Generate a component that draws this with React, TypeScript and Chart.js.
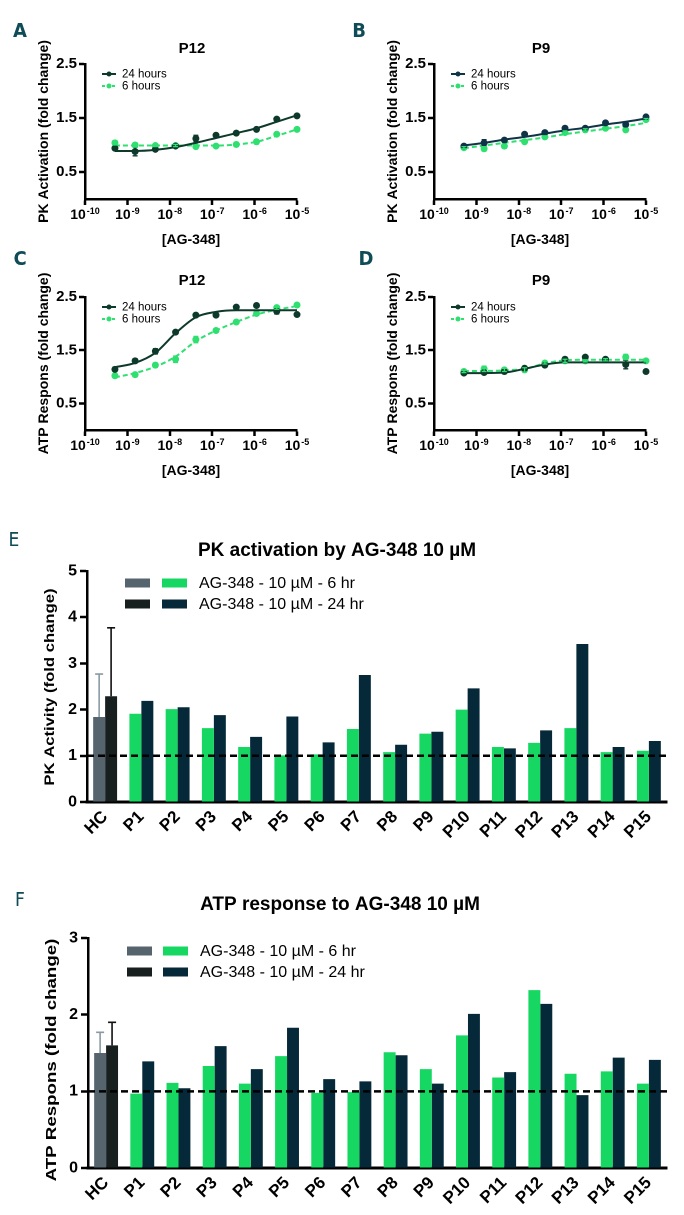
import React, { useEffect, useRef } from 'react';
import { Chart, registerables } from 'chart.js';

Chart.register(...registerables);

const FONT = "'Liberation Sans', Arial, Helvetica, sans-serif";
const LETTER_FONT = "'Liberation Sans Narrow', 'DejaVu Sans Condensed', 'Liberation Sans', sans-serif";

// ---------- dose-response panels (A-D) ----------
const doses = [5.08e-10, 1.52e-9, 4.57e-9, 1.37e-8, 4.12e-8, 1.23e-7, 3.7e-7, 1.11e-6, 3.33e-6, 1.0e-5];
const decadeTicks = [1e-10, 1e-9, 1e-8, 1e-7, 1e-6, 1e-5];
const decadeExponents = ['-10', '-9', '-8', '-7', '-6', '-5'];
const doseYTicks = [0.5, 1.5, 2.5];
const doseLegend = ['24 hours', '6 hours'];
const doseXTitle = '[AG-348]';

// A: P12 PK activation
const pkP12_24h = [0.94, 0.88, 0.92, 0.98, 1.12, 1.18, 1.22, 1.29, 1.48, 1.54];
const pkP12_24hFit = [0.89, 0.89, 0.91, 0.96, 1.04, 1.13, 1.22, 1.31, 1.43, 1.55];
const pkP12_24hErr = [0.02, 0.08, 0.03, 0.02, 0.06, 0.02, 0.02, 0.03, 0.02, 0.02];
const pkP12_6h = [1.04, 1.0, 0.99, 0.99, 0.97, 0.98, 1.01, 1.06, 1.2, 1.29];
const pkP12_6hFit = [0.99, 0.99, 0.99, 0.99, 0.99, 0.99, 1.01, 1.06, 1.17, 1.29];
const pkP12_6hErr = [0.04, 0.04, 0.02, 0.02, 0.03, 0.02, 0.04, 0.04, 0.02, 0.02];

// B: P9 PK activation
const pkP9_24h = [0.98, 1.04, 1.09, 1.2, 1.23, 1.31, 1.31, 1.41, 1.38, 1.52];
const pkP9_24hFit = [0.99, 1.04, 1.1, 1.15, 1.21, 1.27, 1.32, 1.38, 1.43, 1.49];
const pkP9_24hErr = [0.02, 0.06, 0.03, 0.02, 0.03, 0.04, 0.02, 0.03, 0.03, 0.02];
const pkP9_6h = [0.95, 0.93, 0.98, 1.06, 1.15, 1.23, 1.28, 1.31, 1.28, 1.47];
const pkP9_6hFit = [0.94, 0.99, 1.04, 1.09, 1.14, 1.2, 1.25, 1.3, 1.35, 1.41];
const pkP9_6hErr = [0.02, 0.04, 0.04, 0.02, 0.02, 0.03, 0.02, 0.02, 0.03, 0.02];

// C: P12 ATP response
const atpP12_24h = [1.14, 1.3, 1.48, 1.84, 2.16, 2.16, 2.31, 2.34, 2.23, 2.17];
const atpP12_24hFit = [1.18, 1.26, 1.45, 1.82, 2.12, 2.22, 2.25, 2.25, 2.25, 2.25];
const atpP12_24hErr = [0.04, 0.04, 0.05, 0.02, 0.03, 0.02, 0.03, 0.02, 0.05, 0.02];
const atpP12_6h = [1.02, 1.04, 1.22, 1.33, 1.7, 1.87, 2.03, 2.19, 2.3, 2.35];
const atpP12_6hFit = [0.99, 1.07, 1.19, 1.38, 1.67, 1.87, 2.03, 2.17, 2.26, 2.33];
const atpP12_6hErr = [0.04, 0.04, 0.04, 0.06, 0.06, 0.02, 0.03, 0.02, 0.03, 0.02];

// D: P9 ATP response
const atpP9_24h = [1.07, 1.08, 1.1, 1.16, 1.22, 1.33, 1.37, 1.33, 1.23, 1.1];
const atpP9_24hFit = [1.07, 1.07, 1.08, 1.15, 1.23, 1.27, 1.27, 1.27, 1.27, 1.27];
const atpP9_24hErr = [0.02, 0.02, 0.04, 0.04, 0.02, 0.04, 0.02, 0.02, 0.08, 0.02];
const atpP9_6h = [1.1, 1.15, 1.13, 1.13, 1.26, 1.3, 1.3, 1.32, 1.37, 1.3];
const atpP9_6hFit = [1.11, 1.11, 1.12, 1.15, 1.25, 1.31, 1.32, 1.32, 1.32, 1.32];
const atpP9_6hErr = [0.02, 0.05, 0.03, 0.04, 0.02, 0.03, 0.02, 0.02, 0.05, 0.02];

// ---------- bar panels (E-F) ----------
const patients = ['HC', 'P1', 'P2', 'P3', 'P4', 'P5', 'P6', 'P7', 'P8', 'P9', 'P10', 'P11', 'P12', 'P13', 'P14', 'P15'];
const barLegend = ['AG-348 - 10 µM - 6 hr', 'AG-348 - 10 µM - 24 hr'];
const pkAct6h = [1.84, 1.91, 2.01, 1.6, 1.19, 1.01, 1.03, 1.58, 1.08, 1.48, 2.0, 1.19, 1.28, 1.6, 1.08, 1.11];
const pkAct24h = [2.29, 2.19, 2.05, 1.88, 1.41, 1.85, 1.29, 2.75, 1.24, 1.52, 2.46, 1.16, 1.55, 3.42, 1.19, 1.32];
const pkActHcErr = [0.93, 1.48];
const atp6h = [1.5, 0.97, 1.11, 1.33, 1.1, 1.46, 0.98, 0.99, 1.51, 1.29, 1.73, 1.18, 2.32, 1.23, 1.26, 1.1];
const atp24h = [1.6, 1.39, 1.04, 1.59, 1.29, 1.83, 1.16, 1.13, 1.47, 1.1, 2.01, 1.25, 2.14, 0.95, 1.44, 1.41];
const atpHcErr = [0.27, 0.3];

// ---------- colours ----------
const GREEN_LINE = '#2fe070';
const DARK_GREEN = '#0e3a2c';
const NAVY_LINE = '#0f3447';
const GREEN_BAR = '#17d763';
const NAVY_BAR = '#06293a';
const HC_GREY = '#56656d';
const HC_DARK = '#171f1f';
const TEAL = '#0f4c57';

function drawRotated(ctx: any, text: string, cx: number, cy: number, size: number, stretch: number) {
  ctx.save();
  ctx.translate(cx, cy);
  ctx.rotate(-Math.PI / 2);
  ctx.scale(stretch, 1);
  ctx.font = `bold ${size}px ${FONT}`;
  ctx.fillStyle = '#000';
  ctx.textAlign = 'center';
  ctx.textBaseline = 'middle';
  ctx.fillText(text, 0, 0);
  ctx.restore();
}

type DoseSpec = {
  box: number[];
  area: number[];
  title: string;
  titleX: number;
  titleY: number;
  yTitle: string;
  dark: string;
  p24: number[];
  c24: number[];
  e24: number[];
  p6: number[];
  c6: number[];
  e6: number[];
};

const specA: DoseSpec = {
  box: [0, 0, 340, 255], area: [85, 64, 297, 199], title: 'P12', titleX: 192, titleY: 49,
  yTitle: 'PK Activation (fold change)', dark: DARK_GREEN,
  p24: pkP12_24h, c24: pkP12_24hFit, e24: pkP12_24hErr, p6: pkP12_6h, c6: pkP12_6hFit, e6: pkP12_6hErr,
};
const specB: DoseSpec = {
  box: [340, 0, 344, 255], area: [434, 64, 646, 199], title: 'P9', titleX: 541, titleY: 49,
  yTitle: 'PK Activation (fold change)', dark: NAVY_LINE,
  p24: pkP9_24h, c24: pkP9_24hFit, e24: pkP9_24hErr, p6: pkP9_6h, c6: pkP9_6hFit, e6: pkP9_6hErr,
};
const specC: DoseSpec = {
  box: [0, 245, 340, 250], area: [85, 297, 297, 430], title: 'P12', titleX: 192, titleY: 281,
  yTitle: 'ATP Respons (fold change)', dark: DARK_GREEN,
  p24: atpP12_24h, c24: atpP12_24hFit, e24: atpP12_24hErr, p6: atpP12_6h, c6: atpP12_6hFit, e6: atpP12_6hErr,
};
const specD: DoseSpec = {
  box: [340, 245, 344, 250], area: [434, 297, 646, 430], title: 'P9', titleX: 541, titleY: 281,
  yTitle: 'ATP Respons (fold change)', dark: DARK_GREEN,
  p24: atpP9_24h, c24: atpP9_24hFit, e24: atpP9_24hErr, p6: atpP9_6h, c6: atpP9_6hFit, e6: atpP9_6hErr,
};

function makeDoseConfig(s: DoseSpec): any {
  const [bx, by, bw, bh] = s.box;
  const [l, t, r, b] = s.area;
  const pts = (arr: number[]) => doses.map((d, i) => ({ x: d, y: arr[i] }));
  const axisGrid = { display: true, drawOnChartArea: false, drawTicks: true, tickLength: 6, tickWidth: 2.5, tickColor: '#000' };
  const axisBorder = { display: true, color: '#000', width: 2.5 };
  const extras = {
    id: 'doseExtras',
    afterDatasetsDraw(chart: any) {
      const { ctx, scales } = chart;
      const sets: any[] = [[s.p24, s.e24, s.dark], [s.p6, s.e6, GREEN_LINE]];
      ctx.save();
      ctx.lineWidth = 1.3;
      sets.forEach(([vals, errs, col]) => {
        ctx.strokeStyle = col;
        doses.forEach((d, i) => {
          const x = scales.x.getPixelForValue(d);
          const y1 = scales.y.getPixelForValue(vals[i] - errs[i]);
          const y2 = scales.y.getPixelForValue(vals[i] + errs[i]);
          ctx.beginPath();
          ctx.moveTo(x, y1); ctx.lineTo(x, y2);
          ctx.moveTo(x - 2.5, y1); ctx.lineTo(x + 2.5, y1);
          ctx.moveTo(x - 2.5, y2); ctx.lineTo(x + 2.5, y2);
          ctx.stroke();
        });
      });
      ctx.restore();
    },
    afterDraw(chart: any) {
      const { ctx, chartArea: ca, scales } = chart;
      ctx.save();
      ctx.fillStyle = '#000';
      ctx.font = `bold 15px ${FONT}`;
      ctx.textAlign = 'center';
      ctx.textBaseline = 'middle';
      ctx.fillText(s.title, s.titleX - bx, s.titleY - by);
      decadeTicks.forEach((v, i) => {
        const x = scales.x.getPixelForValue(v);
        ctx.font = `bold 14px ${FONT}`;
        const w1 = ctx.measureText('10').width;
        ctx.font = `bold 9px ${FONT}`;
        const w2 = ctx.measureText(decadeExponents[i]).width;
        const x0 = x - (w1 + w2 + 1) / 2;
        ctx.textAlign = 'left';
        ctx.textBaseline = 'alphabetic';
        ctx.font = `bold 14px ${FONT}`;
        ctx.fillText('10', x0, ca.bottom + 20);
        ctx.font = `bold 9px ${FONT}`;
        ctx.fillText(decadeExponents[i], x0 + w1 + 1, ca.bottom + 15);
      });
      ctx.font = `bold 14px ${FONT}`;
      ctx.textAlign = 'center';
      ctx.textBaseline = 'middle';
      ctx.fillText(doseXTitle, (ca.left + ca.right) / 2, ca.bottom + 41);
      drawRotated(ctx, s.yTitle, ca.left - 41, (ca.top + ca.bottom) / 2, 14, 1);
      const entries = [
        { label: doseLegend[0], color: s.dark, dash: [] as number[] },
        { label: doseLegend[1], color: GREEN_LINE, dash: [3, 2] },
      ];
      entries.forEach((e, k) => {
        const y = ca.top + 10 + k * 12;
        const x0 = ca.left + 17;
        ctx.strokeStyle = e.color;
        ctx.lineWidth = 2;
        ctx.setLineDash(e.dash);
        ctx.beginPath();
        ctx.moveTo(x0, y);
        ctx.lineTo(x0 + 14, y);
        ctx.stroke();
        ctx.setLineDash([]);
        ctx.fillStyle = e.color;
        ctx.beginPath();
        ctx.arc(x0 + 7, y, 2.5, 0, Math.PI * 2);
        ctx.fill();
        ctx.fillStyle = '#000';
        ctx.font = `11.5px ${FONT}`;
        ctx.textAlign = 'left';
        ctx.textBaseline = 'middle';
        ctx.fillText(e.label, x0 + 20, y + 0.5);
      });
      ctx.restore();
    },
  };
  return {
    type: 'scatter',
    data: {
      datasets: [
        { label: doseLegend[0], data: pts(s.p24), pointRadius: 3, pointBackgroundColor: s.dark, pointBorderColor: s.dark, backgroundColor: s.dark, borderColor: s.dark, showLine: false, clip: false },
        { label: doseLegend[0] + ' fit', type: 'line', data: pts(s.c24), borderColor: s.dark, borderWidth: 2, pointRadius: 0, cubicInterpolationMode: 'monotone', fill: false, clip: false },
        { label: doseLegend[1], data: pts(s.p6), pointRadius: 3, pointBackgroundColor: GREEN_LINE, pointBorderColor: GREEN_LINE, backgroundColor: GREEN_LINE, borderColor: GREEN_LINE, showLine: false, clip: false },
        { label: doseLegend[1] + ' fit', type: 'line', data: pts(s.c6), borderColor: GREEN_LINE, borderWidth: 2, borderDash: [5, 3], pointRadius: 0, cubicInterpolationMode: 'monotone', fill: false, clip: false },
      ],
    },
    options: {
      animation: false,
      responsive: false,
      devicePixelRatio: 2,
      layout: { padding: { top: t - by, right: bx + bw - r, left: 0, bottom: 0 } },
      plugins: { legend: { display: false }, tooltip: { enabled: false }, title: { display: false } },
      scales: {
        x: {
          type: 'logarithmic', min: 1e-10, max: 1e-5,
          afterBuildTicks: (sc: any) => { sc.ticks = decadeTicks.map((v) => ({ value: v })); },
          afterFit: (sc: any) => { sc.height = by + bh - b; },
          ticks: { display: false },
          grid: axisGrid, border: axisBorder,
        },
        y: {
          type: 'linear', min: 0, max: 2.5,
          afterBuildTicks: (sc: any) => { sc.ticks = doseYTicks.map((v) => ({ value: v })); },
          afterFit: (sc: any) => { sc.width = l - bx; },
          ticks: { color: '#000', padding: 2, font: { family: FONT, size: 15, weight: 'bold' }, callback: (v: any) => Number(v).toFixed(1) },
          grid: axisGrid, border: axisBorder,
        },
      },
    },
    plugins: [extras],
  };
}

type BarSpec = {
  box: number[];
  area: number[];
  title: string;
  titleX: number;
  titleY: number;
  yTitle: string;
  yTitleX: number;
  yTitleY: number;
  yTitleSize: number;
  yTitleStretch: number;
  yMax: number;
  v6: number[];
  v24: number[];
  hcErr: number[];
  legendY: number[];
  swatchX: number[];
  textX: number;
};

const specE: BarSpec = {
  box: [0, 520, 684, 330], area: [87, 571, 667, 802], title: 'PK activation by AG-348 10 µM', titleX: 337, titleY: 551,
  yTitle: 'PK Activity (fold change)', yTitleX: 50, yTitleY: 687, yTitleSize: 14, yTitleStretch: 1.19, yMax: 5,
  v6: pkAct6h, v24: pkAct24h, hcErr: pkActHcErr, legendY: [583, 604], swatchX: [125, 162], textX: 199,
};
const specF: BarSpec = {
  box: [0, 880, 684, 335], area: [88, 938, 667, 1168], title: 'ATP response to AG-348 10 µM', titleX: 340, titleY: 905,
  yTitle: 'ATP Respons (fold change)', yTitleX: 52, yTitleY: 1060, yTitleSize: 14.5, yTitleStretch: 1.29, yMax: 3,
  v6: atp6h, v24: atp24h, hcErr: atpHcErr, legendY: [951, 972], swatchX: [127, 163], textX: 200,
};

function makeBarConfig(s: BarSpec): any {
  const [bx, by, bw, bh] = s.box;
  const [l, t, r, b] = s.area;
  const extras = {
    id: 'barExtras',
    afterDatasetsDraw(chart: any) {
      const { ctx, chartArea: ca, scales } = chart;
      ctx.save();
      [0, 1].forEach((di) => {
        const el = chart.getDatasetMeta(di).data[0];
        const v = chart.data.datasets[di].data[0];
        const top = scales.y.getPixelForValue(v + s.hcErr[di]);
        ctx.strokeStyle = di === 0 ? '#8a9aa2' : '#111';
        ctx.lineWidth = 1.6;
        ctx.beginPath();
        ctx.moveTo(el.x, el.y);
        ctx.lineTo(el.x, top);
        ctx.moveTo(el.x - 4, top);
        ctx.lineTo(el.x + 4, top);
        ctx.stroke();
      });
      const y1 = scales.y.getPixelForValue(1);
      ctx.strokeStyle = '#000';
      ctx.lineWidth = 2.5;
      ctx.setLineDash([7, 4]);
      ctx.beginPath();
      ctx.moveTo(ca.left, y1);
      ctx.lineTo(ca.right, y1);
      ctx.stroke();
      ctx.restore();
    },
    afterDraw(chart: any) {
      const { ctx } = chart;
      ctx.save();
      ctx.fillStyle = '#000';
      ctx.font = `bold 19px ${FONT}`;
      ctx.textAlign = 'center';
      ctx.textBaseline = 'middle';
      ctx.fillText(s.title, s.titleX - bx, s.titleY - by);
      drawRotated(ctx, s.yTitle, s.yTitleX - bx, s.yTitleY - by, s.yTitleSize, s.yTitleStretch);
      const rows = [
        { c1: HC_GREY, c2: GREEN_BAR, label: barLegend[0] },
        { c1: HC_DARK, c2: NAVY_BAR, label: barLegend[1] },
      ];
      rows.forEach((row, k) => {
        const y = s.legendY[k] - by;
        ctx.fillStyle = row.c1;
        ctx.fillRect(s.swatchX[0] - bx, y - 4.5, 25, 9);
        ctx.fillStyle = row.c2;
        ctx.fillRect(s.swatchX[1] - bx, y - 4.5, 25, 9);
        ctx.fillStyle = '#000';
        ctx.font = `16px ${FONT}`;
        ctx.textAlign = 'left';
        ctx.textBaseline = 'middle';
        ctx.fillText(row.label, s.textX - bx, y + 0.5);
      });
      ctx.restore();
    },
  };
  return {
    type: 'bar',
    data: {
      labels: patients,
      datasets: [
        { label: barLegend[0], data: s.v6, backgroundColor: patients.map((p, i) => (i === 0 ? HC_GREY : GREEN_BAR)), borderWidth: 0, categoryPercentage: 0.66, barPercentage: 1 },
        { label: barLegend[1], data: s.v24, backgroundColor: patients.map((p, i) => (i === 0 ? HC_DARK : NAVY_BAR)), borderWidth: 0, categoryPercentage: 0.66, barPercentage: 1 },
      ],
    },
    options: {
      animation: false,
      responsive: false,
      devicePixelRatio: 2,
      layout: { padding: { top: t - by, right: bx + bw - r, left: 0, bottom: 0 } },
      plugins: { legend: { display: false }, tooltip: { enabled: false }, title: { display: false } },
      scales: {
        x: {
          offset: true,
          grid: { display: false, drawTicks: false },
          border: { display: true, color: '#000', width: 3 },
          ticks: { autoSkip: false, minRotation: 45, maxRotation: 45, padding: 5, color: '#000', font: { family: FONT, size: 17, weight: 'bold' } },
          afterFit: (sc: any) => { sc.height = by + bh - b; },
        },
        y: {
          min: 0, max: s.yMax,
          ticks: { stepSize: 1, color: '#000', padding: 3, font: { family: FONT, size: 16, weight: 'bold' } },
          grid: { display: true, drawOnChartArea: false, drawTicks: true, tickLength: 7, tickWidth: 2.5, tickColor: '#000' },
          border: { display: true, color: '#000', width: 2.5 },
          afterFit: (sc: any) => { sc.width = l - bx; },
        },
      },
    },
    plugins: [extras],
  };
}

const panelLetters = [
  { text: 'A', x: 20, y: 30, bold: true },
  { text: 'B', x: 359, y: 30, bold: true },
  { text: 'C', x: 20, y: 258, bold: true },
  { text: 'D', x: 366, y: 258, bold: true },
  { text: 'E', x: 14, y: 539, bold: false },
  { text: 'F', x: 20, y: 899, bold: false },
];

const canvasBoxes = [specA.box, specB.box, specC.box, specD.box, specE.box, specF.box];

export default function App() {
  const refs = useRef<(HTMLCanvasElement | null)[]>([]);

  useEffect(() => {
    const configs = [
      makeDoseConfig(specA), makeDoseConfig(specB), makeDoseConfig(specC), makeDoseConfig(specD),
      makeBarConfig(specE), makeBarConfig(specF),
    ];
    const charts = configs.map((cfg, i) => new Chart(refs.current[i] as HTMLCanvasElement, cfg));
    return () => charts.forEach((c) => c.destroy());
  }, []);

  return (
    <div style={{ position: 'absolute', left: 0, top: 0, width: 684, height: 1215, background: '#fff', overflow: 'hidden' }}>
      {canvasBoxes.map((bxs, i) => (
        <canvas
          key={i}
          ref={(el) => { refs.current[i] = el; }}
          width={bxs[2]}
          height={bxs[3]}
          style={{ position: 'absolute', left: bxs[0], top: bxs[1], width: bxs[2], height: bxs[3] }}
        />
      ))}
      {panelLetters.map((p) => (
        <div
          key={p.text}
          style={{
            position: 'absolute',
            left: p.x,
            top: p.y,
            transform: 'translate(-50%, -50%)',
            fontFamily: LETTER_FONT,
            fontWeight: p.bold ? 700 : 400,
            fontSize: p.bold ? 20 : 19,
            color: TEAL,
            lineHeight: 1,
          }}
        >
          {p.text}
        </div>
      ))}
    </div>
  );
}
